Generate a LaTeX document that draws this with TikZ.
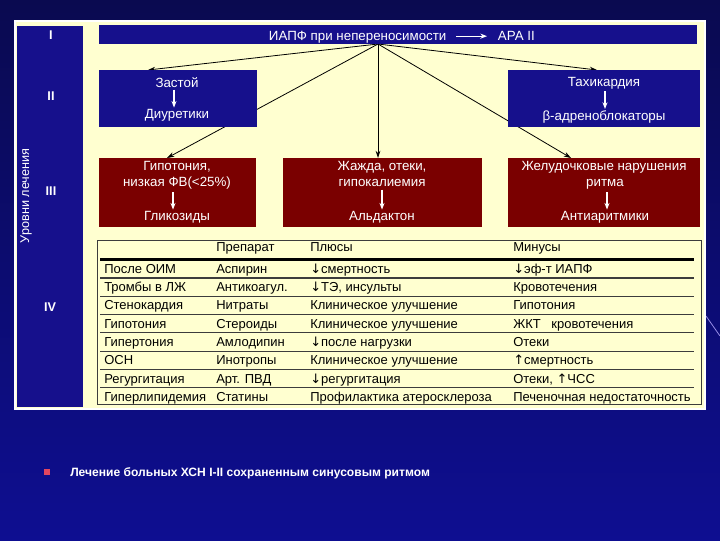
\documentclass[tikz,border=0pt]{standalone}
\usepackage{fontspec}
\setmainfont{Liberation Sans}
\newfontfamily\dv{DejaVu Sans}
\usetikzlibrary{arrows.meta,fit,calc}
\definecolor{bgtop}{RGB}{10,10,80}
\definecolor{bgbot}{RGB}{14,14,145}
\definecolor{cream}{RGB}{255,255,208}
\definecolor{boxblue}{RGB}{22,16,140}
\definecolor{boxred}{RGB}{122,0,0}
\definecolor{rule}{RGB}{60,60,60}
\definecolor{bullet}{RGB}{225,70,95}
\definecolor{streak}{RGB}{150,140,230}
\pgfdeclarelayer{back}
\pgfdeclarelayer{lines}
\pgfsetlayers{back,lines,main}
\begin{document}
\begin{tikzpicture}[x=0.75pt,y=-0.75pt,
  box/.style={inner sep=0pt, outer sep=0pt, draw=none},
  bluebox/.style={box, fill=boxblue},
  redbox/.style={box, fill=boxred},
  wt/.style={text=white, font=\fontsize{10}{12}\selectfont, inner sep=0.5pt, anchor=base, yshift=-3.5pt},
  wtw/.style={wt, anchor=base west},
  conn/.style={draw=black, line width=0.6pt, -{Stealth[length=5.5pt,width=3.6pt]}},
  wconn/.style={draw=white, line width=0.8pt, -{Stealth[length=5pt,width=3.8pt]}},
  tab/.style={font=\fontsize{9.75}{11}\selectfont, anchor=base west, yshift=-3.45pt, inner sep=0pt, text=black},
  rn/.style={text=white, font=\bfseries\fontsize{9.5}{11}\selectfont, inner sep=0pt},
  trule/.style={draw=rule, line width=0.8pt}
]
\useasboundingbox (0,0) rectangle (720,540);
\begin{pgfonlayer}{back}
\shade[top color=bgtop, bottom color=bgbot] (0,0) rectangle (720,540);
\draw[streak, line width=0.6pt] (706,316) -- (720,336);
\node[box, fill=cream, draw=white, line width=1.5pt, fit={(15,21)(705,409)}] (frame) {};
\end{pgfonlayer}

% left sidebar
\node[bluebox, fit={(17,26)(83,407)}] (side) {};
\node[rn] (l1) at (51,35) {I};
\node[rn] (l2) at (51,96) {II};
\node[rn] (l3) at (51,191) {III};
\node[rn] (l4) at (50,307) {IV};
\node[text=white, font=\fontsize{9.5}{11}\selectfont, rotate=90, inner sep=0pt] (lev) at (26,196) {Уровни лечения};

% level I bar
\node[bluebox, fit={(99,25)(697,44)}] (top) {};
\node[wtw] (iapf) at (268,35.5) {ИАПФ при непереносимости};
\node[wtw] (ara) at (497,35.5) {АРА II};
\coordinate (a1) at ($(iapf.base east)+(9,-4)$);
\draw[wconn] (a1) -- ($(a1 -| ara.west)+(-10,0)$) coordinate (a2);

% level II
\node[bluebox, fit={(99,70)(257,127)}] (zast) {};
\node[wt] (t1) at (177,83) {Застой};
\node[wt] (t2) at (177,114) {Диуретики};
\draw[wconn] ($(t1.south)+(-3,1)$) coordinate (b1) -- ($(t2.north)+(-3,-1)$) coordinate (b2);

\node[bluebox, fit={(508,70)(700,127)}] (tach) {};
\node[wt] (t3) at (604,82) {Тахикардия};
\node[wt] (t4) at (604,116) {β-адреноблокаторы};
\draw[wconn] ($(t3.south)+(1,1)$) coordinate (c1) -- ($(t4.north)+(1,-1)$) coordinate (c2);

% level III
\node[redbox, fit={(99,158)(256,227)}] (gipo) {};
\node[wt] (g1) at (177,166) {Гипотония,};
\node[wt] (g2) at (177,182) {низкая ФВ(<25\%)};
\node[wt] (g3) at (177,216) {Гликозиды};
\draw[wconn] ($(g2.south)+(-4,2)$) -- ($(g3.north)+(-4,-1)$);

\node[redbox, fit={(283,158)(482,227)}] (zhaz) {};
\node[wt] (z1) at (382,166) {Жажда, отеки,};
\node[wt] (z2) at (382,182) {гипокалиемия};
\node[wt] (z3) at (382,216) {Альдактон};
\draw[wconn] ($(z2.south)+(0,2)$) -- ($(z3.north)+(0,-1)$);

\node[redbox, fit={(508,158)(700,227)}] (zhel) {};
\node[wt] (h1) at (604,166) {Желудочковые нарушения};
\node[wt] (h2) at (605,182) {ритма};
\node[wt] (h3) at (605,216) {Антиаритмики};
\draw[wconn] ($(h2.south)+(2,2)$) -- ($(h3.north)+(2,-1)$);

% connectors from level I
\coordinate (src) at ($(top.south west)+(279,0)$);
\begin{pgfonlayer}{lines}
\draw[conn] (src) -- ($(zast.north west)+(49,0)$);
\draw[conn] (src) -- ($(gipo.north west)+(68,0)$);
\draw[conn] (src) -- (src |- zhaz.north);
\draw[conn] (src) -- ($(tach.north west)+(89,0)$);
\draw[conn] (src) -- ($(zhel.north west)+(63,0)$);
\end{pgfonlayer}

% level IV table
\node[box, draw=rule, line width=0.75pt, fit={(97,240)(701,404)}] (tbl) {};
\node[tab] (hp) at (216,246.5) {Препарат};
\node[tab] (hpl) at (310,246.5) {Плюсы};
\node[tab] (hm) at (513,246.5) {Минусы};
\draw[black, line width=1.6pt] (100,259.5) -- (694,259.5);
\foreach \yy in {278,296.3,314.6,332.9,351.2,369.5,387.8}
  \draw[trule] (100,\yy) -- (694,\yy);

\node[tab] (r1a) at (104,268.8) {После ОИМ};
\node[tab] (r1b) at (216,268.8) {Аспирин};
\node[tab] (r1c) at (310,268.8) {{\dv ↓}смертность};
\node[tab] (r1d) at (513,268.8) {{\dv ↓}эф-т ИАПФ};

\node[tab] (r2a) at (104,287) {Тромбы в ЛЖ};
\node[tab] (r2b) at (216,287) {Антикоагул.};
\node[tab] (r2c) at (310,287) {{\dv ↓}ТЭ, инсульты};
\node[tab] (r2d) at (513,287) {Кровотечения};

\node[tab] (r3a) at (104,305.3) {Стенокардия};
\node[tab] (r3b) at (216,305.3) {Нитраты};
\node[tab] (r3c) at (310,305.3) {Клиническое улучшение};
\node[tab] (r3d) at (513,305.3) {Гипотония};

\node[tab] (r4a) at (104,323.6) {Гипотония};
\node[tab] (r4b) at (216,323.6) {Стероиды};
\node[tab] (r4c) at (310,323.6) {Клиническое улучшение};
\node[tab] (r4d) at (513,323.6) {ЖКТ\hskip 8pt кровотечения};

\node[tab] (r5a) at (104,341.9) {Гипертония};
\node[tab] (r5b) at (216,341.9) {Амлодипин};
\node[tab] (r5c) at (310,341.9) {{\dv ↓}после нагрузки};
\node[tab] (r5d) at (513,341.9) {Отеки};

\node[tab] (r6a) at (104,360.2) {ОСН};
\node[tab] (r6b) at (216,360.2) {Инотропы};
\node[tab] (r6c) at (310,360.2) {Клиническое улучшение};
\node[tab] (r6d) at (513,360.2) {{\dv ↑}смертность};

\node[tab] (r7a) at (104,378.5) {Регургитация};
\node[tab] (r7b) at (216,378.5) {Арт. ПВД};
\node[tab] (r7c) at (310,378.5) {{\dv ↓}регургитация};
\node[tab] (r7d) at (513,378.5) {Отеки, {\dv ↑}ЧСС};

\node[tab] (r8a) at (104,396.8) {Гиперлипидемия};
\node[tab] (r8b) at (216,396.8) {Статины};
\node[tab] (r8c) at (310,396.8) {Профилактика атеросклероза};
\node[tab] (r8d) at (513,396.8) {Печеночная недостаточность};

% caption
\node[box, fill=bullet, minimum width=4.5pt, minimum height=4.5pt] (bul) at (46.5,472) {};
\node[text=white, font=\bfseries\fontsize{9.05}{11}\selectfont, anchor=base west, yshift=-3.3pt, inner sep=0pt] (cap) at (70,472) {Лечение больных ХСН I-II сохраненным синусовым ритмом};
\end{tikzpicture}
\end{document}
